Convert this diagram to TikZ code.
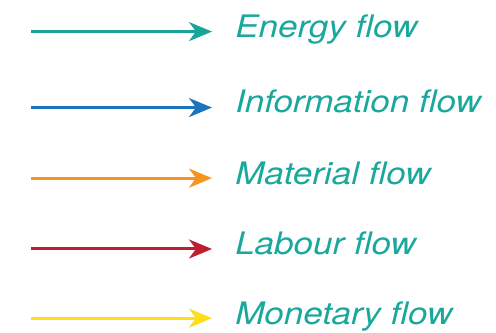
\documentclass[tikz,border=0pt]{standalone}
\usepackage{fontspec}
\setmainfont{TeX Gyre Heros}[FakeStretch=1.13]
\usetikzlibrary{arrows.meta}

\definecolor{energyc}{HTML}{17A598}
\definecolor{infoc}{HTML}{1C75BC}
\definecolor{materialc}{HTML}{F7941D}
\definecolor{labourc}{HTML}{BE1E2D}
\definecolor{moneyc}{HTML}{FFDE17}
\definecolor{labelc}{HTML}{1AA89C}

\begin{document}
\begin{tikzpicture}[
    flow/.style={-{Stealth[length=23pt, width=19pt, inset=7pt]}, line width=3pt},
    legendtext/.style={anchor=base west, inner sep=0pt, text=labelc, font=\fontsize{31}{31}\selectfont\itshape}
]
\useasboundingbox (0,0) rectangle (17.43,11.70);

% Energy
\coordinate (es) at (1.09,10.59);
\coordinate (ee) at (7.45,10.59);
\node[legendtext] at (8.26,10.37) (energy) {Energy flow};

% Information
\coordinate (is) at (1.09,7.92);
\coordinate (ie) at (7.45,7.92);
\node[legendtext] at (8.26,7.76) (info) {Information flow};

% Material
\coordinate (ms) at (1.09,5.44);
\coordinate (me) at (7.45,5.44);
\node[legendtext] at (8.26,5.23) (material) {Material flow};

% Labour
\coordinate (ls) at (1.09,2.95);
\coordinate (le) at (7.45,2.95);
\node[legendtext] at (8.26,2.74) (labour) {Labour flow};

% Monetary
\coordinate (ns) at (1.09,0.52);
\coordinate (ne) at (7.45,0.52);
\node[legendtext] at (8.26,0.31) (money) {Monetary flow};

% Arrows
\draw[flow, energyc] (es) -- (ee);
\draw[flow, infoc] (is) -- (ie);
\draw[flow, materialc] (ms) -- (me);
\draw[flow, labourc] (ls) -- (le);
\draw[flow, moneyc] (ns) -- (ne);

\end{tikzpicture}
\end{document}
